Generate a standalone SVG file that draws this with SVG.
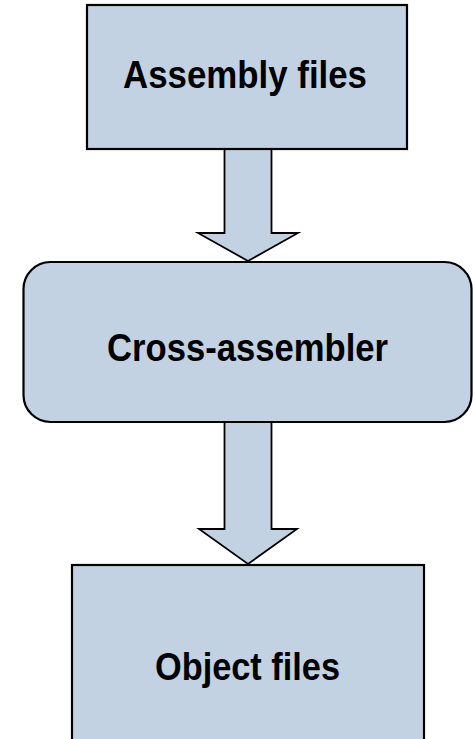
<svg xmlns="http://www.w3.org/2000/svg" width="473" height="739" viewBox="0 0 473 739">
  <style>
    .box { fill: #c2d2e2; stroke: #000; stroke-width: 2.2; }
    .arrow { fill: #c2d2e2; stroke: #000; stroke-width: 1.8; stroke-linejoin: miter; }
    .label { font-family: "Liberation Sans", Arial, sans-serif; font-size: 39.5px; font-weight: bold; fill: #000; text-anchor: middle; }
  </style>
  <rect width="473" height="739" fill="#fff"/>
  <g id="connectors">
    <path class="arrow" d="M224.5,149 L271.5,149 L271.5,233 L298,233 L248,261 L198,233 L224.5,233 Z"/>
    <path class="arrow" d="M224.5,422 L271.5,422 L271.5,529 L297,529 L248,564 L199,529 L224.5,529 Z"/>
  </g>
  <g id="assembly-files">
    <rect class="box" x="87" y="5" width="320" height="144"/>
    <text class="label" x="245" y="87.5" textLength="244" lengthAdjust="spacingAndGlyphs">Assembly files</text>
  </g>
  <g id="cross-assembler">
    <rect class="box" x="23.5" y="262" width="448" height="160" rx="27" ry="27"/>
    <text class="label" x="247.5" y="361" textLength="281" lengthAdjust="spacingAndGlyphs">Cross-assembler</text>
  </g>
  <g id="object-files">
    <rect class="box" x="72" y="565" width="352" height="190"/>
    <text class="label" x="247.5" y="679.5" textLength="185" lengthAdjust="spacingAndGlyphs">Object files</text>
  </g>
</svg>
